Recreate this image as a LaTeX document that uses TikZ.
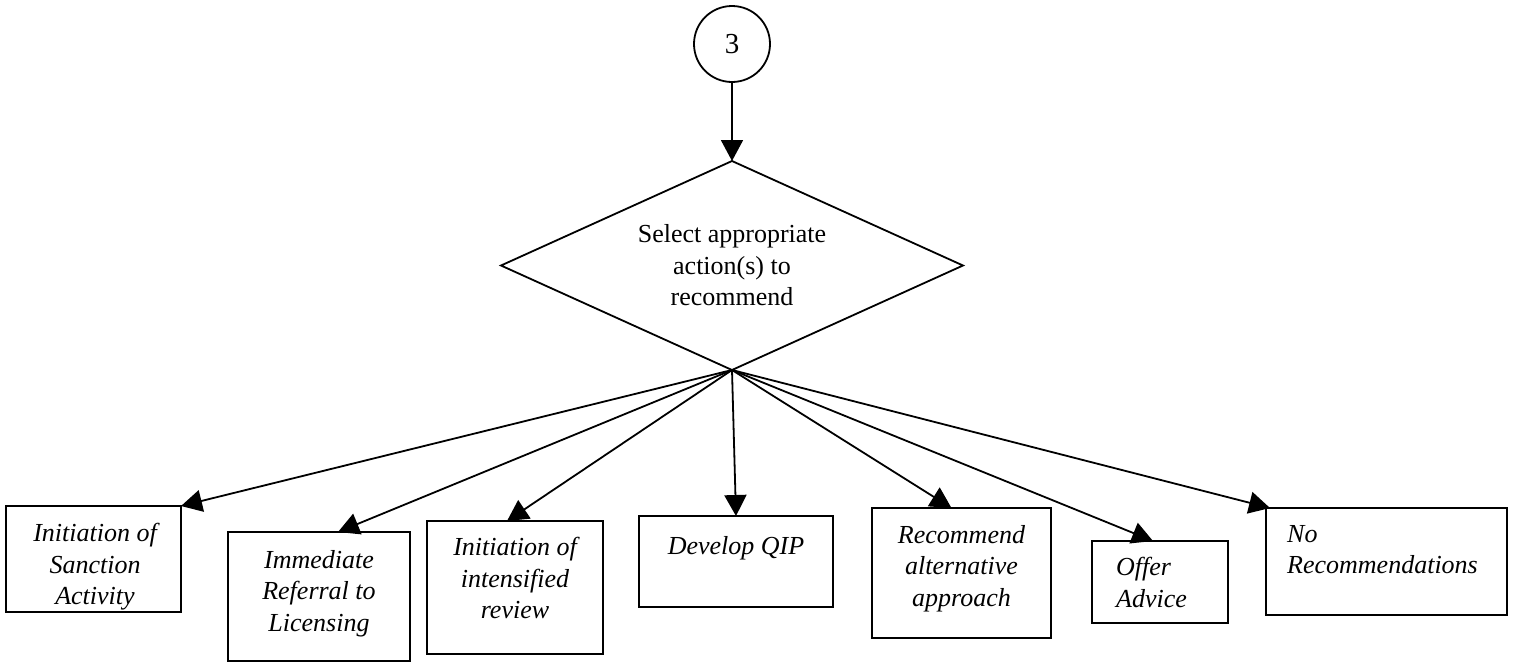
\documentclass[tikz,border=0pt]{standalone}
\usepackage{fontspec}
\setmainfont{Liberation Serif}
\usetikzlibrary{shapes.geometric,arrows.meta}
\tikzset{
  base/.style={line width=1.8pt, outer sep=0pt, inner sep=0pt},
  boxnode/.style={base, draw, rectangle},
  txt/.style={inner sep=0pt, font=\fontsize{26}{31.5}\selectfont\itshape},
  arr/.style={line width=1.8pt, -{Triangle[length=21pt,width=22pt]}},
}
\begin{document}
\begin{tikzpicture}[x=1pt,y=-1pt]
\useasboundingbox (0,0) rectangle (1513,662);

\node[base, draw, circle, minimum size=76pt, font=\fontsize{29}{34}\selectfont] (c) at (732,44) {3};
\node[base, draw, diamond, aspect=2.21, minimum width=462pt, minimum height=209pt, align=center,
      font=\fontsize{26}{31.5}\selectfont] (d) at (732,265.5)
      {Select appropriate\\action(s) to\\recommend};

\node[boxnode, minimum width=175pt, minimum height=106pt] (b1) at (93.5,559) {};
\node[boxnode, minimum width=182pt, minimum height=129pt] (b2) at (319,596.5) {};
\node[boxnode, minimum width=176pt, minimum height=133pt] (b3) at (515,587.5) {};
\node[boxnode, minimum width=194pt, minimum height=91pt] (b4) at (736,561.5) {};
\node[boxnode, minimum width=179pt, minimum height=130pt] (b5) at (961.5,573) {};
\node[boxnode, minimum width=136pt, minimum height=82pt] (b6) at (1160,582) {};
\node[boxnode, minimum width=241pt, minimum height=107pt] (b7) at (1386.5,561.5) {};

\node[txt, anchor=north, align=center] (t1) at ([xshift=1.5pt,yshift=-17pt]b1.north) {Initiation of\\Sanction\\Activity};
\node[txt, anchor=north, align=center] (t2) at ([yshift=-18pt]b2.north) {Immediate\\Referral to\\Licensing};
\node[txt, anchor=north, align=center] (t3) at ([yshift=-16pt]b3.north) {Initiation of\\intensified\\review};
\node[txt, anchor=north, align=center] (t4) at ([yshift=-20pt]b4.north) {Develop QIP};
\node[txt, anchor=north, align=center] (t5) at ([yshift=-17pt]b5.north) {Recommend\\alternative\\approach};
\node[txt, anchor=north west, align=left] (t6) at ([xshift=24pt,yshift=-16pt]b6.north west) {Offer\\Advice};
\node[txt, anchor=north west, align=left] (t7) at ([xshift=21pt,yshift=-17pt]b7.north west) {No\\Recommendations};

\draw[arr] (c.south) -- (d.north);
\draw[arr] (d.south) -- (b1.north east);
\draw[arr] (d.south) -- ([xshift=19pt]b2.north);
\draw[arr] (d.south) -- ([xshift=-8pt]b3.north);
\draw[arr] (d.south) -- (b4.north);
\draw[arr] (d.south) -- ([xshift=-10pt]b5.north);
\draw[arr] (d.south) -- ([xshift=-7pt]b6.north);
\draw[arr] (d.south) -- ([xshift=4pt]b7.north west);
\end{tikzpicture}
\end{document}
